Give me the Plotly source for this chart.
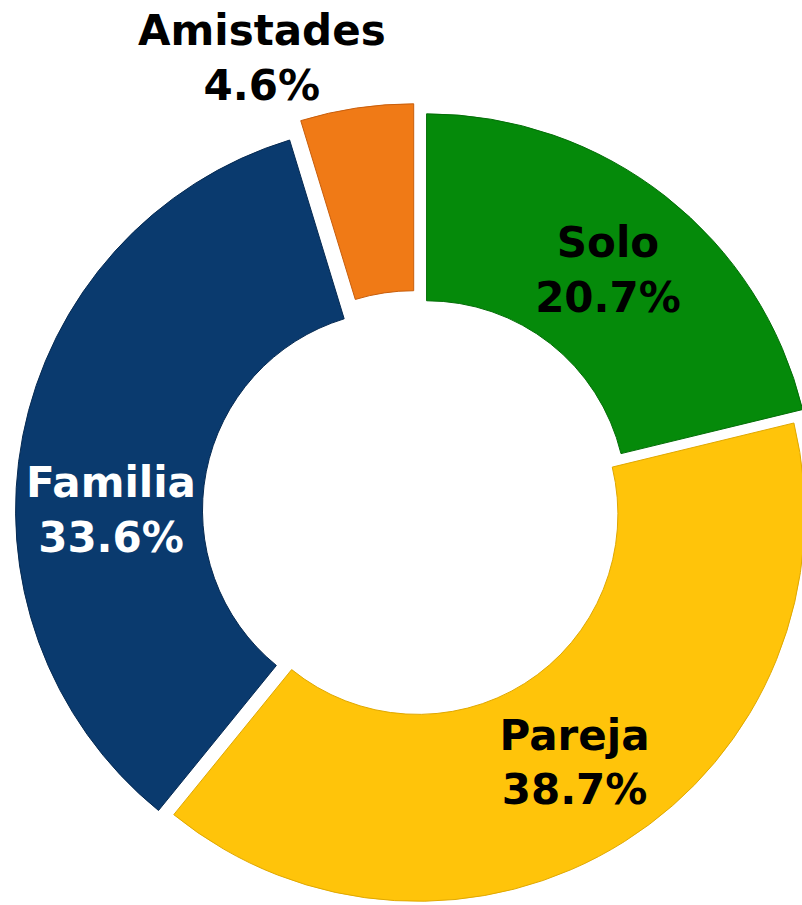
import plotly.graph_objects as go

labels = ["Solo", "Pareja", "Familia", "Amistades"]
values = [20.7, 38.7, 33.6, 4.6]
pulls = [0.040, 0.004, 0.038, 0.058]
colors = ["#058A0A", "#FFC40A", "#0A3A6E", "#F07A16"]
edge_colors = ["#046E08", "#E0A800", "#062A52", "#C85E0C"]
text_colors = ["#000000", "#000000", "#FFFFFF", "#000000"]
text_positions = ["inside", "inside", "inside", "none"]

W, H = 830, 925
R, CX, CY = 387, 417, 513
box = 2 * R * (1 + max(pulls))

fig = go.Figure(
    go.Pie(
        labels=labels,
        values=values,
        sort=False,
        direction="clockwise",
        rotation=0,
        hole=0.517,
        pull=pulls,
        marker=dict(colors=colors, line=dict(color=edge_colors, width=1)),
        texttemplate="%{label}<br>%{value:.1f}%",
        textposition=text_positions,
        insidetextorientation="horizontal",
        textfont=dict(family="DejaVu Sans", size=42, color=text_colors, weight="bold"),
        showlegend=False,
        domain=dict(
            x=[(CX - box / 2) / W, (CX + box / 2) / W],
            y=[(H - CY - box / 2) / H, (H - CY + box / 2) / H],
        ),
    )
)

fig.add_annotation(
    text=f"{labels[3]}<br>{values[3]:.1f}%",
    x=262 / W, y=1 - 58 / H,
    xref="paper", yref="paper",
    xanchor="center", yanchor="middle",
    showarrow=False,
    font=dict(family="DejaVu Sans", size=42, color="#000000", weight="bold"),
)

fig.update_layout(
    width=W, height=H, autosize=False,
    margin=dict(l=0, r=0, t=0, b=0),
    paper_bgcolor="white",
    plot_bgcolor="white",
)

fig.write_html(
    "out.html",
    config={"displayModeBar": False},
    post_script="document.body.style.margin='0';document.body.style.overflow='hidden';document.documentElement.style.overflow='hidden';",
)
